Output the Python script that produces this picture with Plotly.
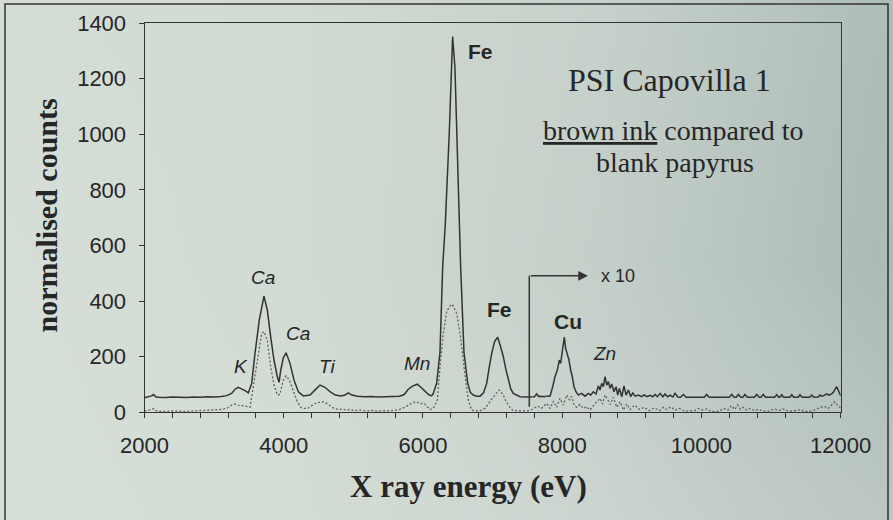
import base64
import struct
import zlib

import plotly.graph_objects as go

# ---------------- data ----------------
# brown ink spectrum (solid line); values above 7527 eV shown x10
energy_ink = [2000, 2040, 2080, 2110, 2130, 2160, 2200, 2300, 2400, 2500, 2600, 2700, 2800, 2900,
              3000, 3100, 3180, 3252, 3300, 3347, 3400, 3444, 3492, 3540, 3587, 3649, 3716, 3764,
              3812, 3860, 3908, 3932, 3956, 3994, 4033, 4090, 4147, 4210, 4281, 4377, 4473, 4521,
              4593, 4665, 4740, 4820, 4880, 4927, 4980, 5060, 5160, 5260, 5360, 5460, 5560, 5660,
              5730, 5789, 5850, 5918, 5970, 6029, 6080, 6125, 6148, 6197, 6244, 6283, 6320, 6377,
              6406, 6426, 6459, 6484, 6521, 6541, 6589, 6642, 6680, 6722, 6770, 6819, 6870, 6915,
              6950, 6987, 7030, 7073, 7110, 7154, 7190, 7226, 7260, 7297, 7350, 7394, 7460, 7527,
              7560, 7600, 7633, 7660, 7681, 7740, 7790, 7825, 7863, 7896, 7930, 7958, 7977, 8001,
              8030, 8049, 8073, 8097, 8121, 8145, 8169, 8198, 8231, 8279, 8327, 8375, 8409, 8447,
              8485, 8519, 8543, 8567, 8591, 8615, 8639, 8663, 8687, 8711, 8744, 8773, 8797, 8821,
              8855, 8888, 8917, 8951, 8984, 9013, 9047, 9095, 9142, 9176, 9215, 9262, 9301, 9334,
              9368, 9406, 9445, 9478, 9512, 9550, 9590, 9620, 9660, 9700, 9740, 9780, 9900, 10040,
              10075, 10110, 10400, 10434, 10470, 10500, 10530, 10565, 10595, 10625, 10660, 10760,
              10794, 10830, 10855, 10888, 10920, 11050, 11081, 11110, 11125, 11152, 11180, 11270,
              11296, 11325, 11390, 11415, 11445, 11555, 11583, 11615, 11680, 11702, 11730, 11760,
              11798, 11830, 11870, 11894, 11942, 11976, 12000]
counts_ink = [52, 54, 56, 60, 64, 56, 54, 53, 55, 54, 53, 55, 54, 56,
              55, 57, 60, 68, 83, 90, 84, 78, 70, 104, 212, 332, 418, 368,
              272, 188, 128, 108, 150, 196, 214, 176, 116, 74, 59, 62, 86, 98,
              90, 74, 62, 59, 62, 70, 62, 58, 56, 57, 55, 56, 55, 58,
              64, 83, 94, 101, 90, 74, 64, 59, 68, 105, 215, 523, 675, 1001,
              1240, 1351, 1240, 1001, 675, 523, 215, 105, 72, 62, 58, 58, 70, 104,
              160, 212, 255, 270, 240, 200, 155, 116, 85, 68, 60, 56, 55, 56,
              57, 56, 66, 57, 58, 56, 59, 58, 92, 128, 152, 188, 176, 224,
              270, 230, 206, 188, 152, 128, 92, 74, 62, 68, 58, 68, 62, 74,
              66, 95, 80, 104, 92, 128, 98, 110, 86, 102, 74, 92, 62, 86,
              56, 95, 62, 80, 56, 70, 58, 62, 56, 63, 56, 61, 56, 64,
              56, 68, 56, 66, 56, 62, 55, 68, 55, 54, 64, 54, 54, 54,
              64, 54, 54, 64, 54, 54, 64, 54, 54, 64, 54, 54,
              64, 54, 54, 64, 54, 54, 63, 54, 54, 63, 54, 54,
              63, 54, 54, 63, 54, 54, 62, 54, 55, 62, 58, 60,
              66, 62, 66, 72, 92, 70, 60]

# blank papyrus spectrum (dotted line); values above 7527 eV shown x10
energy_blank = [2000, 2040, 2080, 2110, 2130, 2160, 2200, 2300, 2400, 2500, 2600, 2700, 2800, 2900,
                3000, 3100, 3181, 3252, 3300, 3340, 3372, 3420, 3468, 3515, 3563, 3620, 3683, 3716,
                3764, 3812, 3860, 3908, 3944, 3994, 4033, 4080, 4138, 4195, 4243, 4290, 4340, 4380,
                4425, 4480, 4521, 4570, 4617, 4665, 4720, 4780, 4840, 4900, 4960, 5020, 5100, 5180,
                5260, 5340, 5420, 5500, 5580, 5660, 5740, 5800, 5850, 5910, 5960, 6010, 6060, 6100,
                6148, 6206, 6244, 6292, 6340, 6380, 6421, 6484, 6532, 6579, 6618, 6651, 6699, 6760,
                6830, 6890, 6939, 6990, 7035, 7070, 7097, 7125, 7154, 7190, 7226, 7260, 7297, 7360,
                7430, 7500, 7560, 7610, 7650, 7700, 7740, 7777, 7825, 7873, 7920, 7968, 8016, 8064,
                8102, 8135, 8170, 8208, 8255, 8303, 8350, 8400, 8447, 8495, 8543, 8580, 8615, 8650,
                8687, 8735, 8783, 8831, 8880, 8927, 8975, 9040, 9110, 9180, 9250, 9320, 9400, 9450,
                9500, 9560, 9620, 9680, 9760, 9820, 9900, 9960, 10020, 10080, 10130, 10200, 10260,
                10320, 10380, 10430, 10480, 10520, 10560, 10600, 10650, 10700, 10760, 10820, 10900,
                10960, 11050, 11110, 11180, 11250, 11330, 11420, 11470, 11540, 11620, 11700, 11760,
                11820, 11880, 11916, 11950, 11990, 12000]
counts_blank = [4, 6, 8, 12, 13, 6, 4, 3, 5, 4, 3, 5, 6, 8,
                9, 10, 14, 26, 30, 26, 23, 24, 20, 18, 92, 188, 284, 290,
                260, 164, 98, 62, 64, 116, 131, 116, 80, 38, 18, 14, 14, 20,
                26, 36, 35, 38, 32, 22, 14, 10, 12, 8, 10, 6, 8, 5,
                7, 4, 6, 5, 8, 10, 18, 28, 35, 38, 30, 33, 18, 10,
                14, 44, 164, 284, 362, 380, 389, 356, 284, 176, 104, 44, 8, 5,
                6, 14, 32, 48, 62, 75, 80, 72, 62, 40, 26, 14, 6, 5,
                6, 5, 10, 18, 22, 14, 24, 32, 14, 40, 18, 50, 26, 62,
                45, 57, 26, 18, 28, 14, 20, 8, 24, 38, 50, 30, 62, 47,
                28, 54, 18, 38, 8, 30, 10, 26, 10, 18, 6, 16, 6, 18,
                10, 20, 8, 14, 4, 5, 6, 14, 8, 12, 4, 3, 5,
                14, 8, 24, 10, 26, 10, 18, 8, 14, 6, 10, 4,
                4, 12, 6, 12, 4, 5, 10, 4, 3, 8, 16, 22,
                14, 30, 38, 26, 18, 12]

x_ticks = [2000, 4000, 6000, 8000, 10000, 12000]
y_ticks = [0, 200, 400, 600, 800, 1000, 1200, 1400]

# peak labels: (text, energy, counts, style)
peak_labels = [
    ("K", 3379, 166, "i"), ("Ca", 3702, 486, "i"), ("Ca", 4198, 285, "i"),
    ("Ti", 4621, 166, "i"), ("Mn", 5907, 174, "i"), ("Fe", 6833, 1296, "b"),
    ("Fe", 7106, 368, "b"), ("Cu", 8076, 328, "b"), ("Zn", 8614, 210, "i"),
]
scale_switch_energy = 7527

# ---------------- layout geometry ----------------
W, H = 893, 520
PX_L, PX_R, PX_T, PX_B = 144.5, 840.7, 23.0, 412.3


def px(x):
    return x / W


def py(y):
    return 1 - y / H


# ---------------- background gradient image ----------------
ctrl_x = [0, 300, 600, 893]
ctrl_y = [0, 260, 520]
ctrl_c = [
    [(211, 221, 213), (209, 219, 211), (199, 209, 203), (174, 189, 184)],
    [(213, 223, 215), (209, 219, 211), (197, 207, 201), (170, 186, 181)],
    [(214, 223, 216), (211, 220, 213), (203, 212, 206), (188, 199, 194)],
]


def interp1(xs, v):
    for i in range(len(xs) - 1):
        if xs[i] <= v <= xs[i + 1]:
            return i, (v - xs[i]) / (xs[i + 1] - xs[i])
    return len(xs) - 2, 1.0


def bg_color(x, y):
    i, tx = interp1(ctrl_x, x)
    j, ty = interp1(ctrl_y, y)
    out = []
    for k in range(3):
        a = ctrl_c[j][i][k] * (1 - tx) + ctrl_c[j][i + 1][k] * tx
        b = ctrl_c[j + 1][i][k] * (1 - tx) + ctrl_c[j + 1][i + 1][k] * tx
        out.append(int(round(a * (1 - ty) + b * ty)))
    return out


def make_png(w, h):
    raw = bytearray()
    for r in range(h):
        raw.append(0)
        for c in range(w):
            raw.extend(bg_color((c + 0.5) * W / w, (r + 0.5) * H / h))

    def chunk(t, d):
        return struct.pack(">I", len(d)) + t + d + struct.pack(">I", zlib.crc32(t + d) & 0xFFFFFFFF)

    return (b"\x89PNG\r\n\x1a\n" + chunk(b"IHDR", struct.pack(">IIBBBBB", w, h, 8, 2, 0, 0, 0))
            + chunk(b"IDAT", zlib.compress(bytes(raw), 9)) + chunk(b"IEND", b""))


bg_uri = "data:image/png;base64," + base64.b64encode(make_png(179, 104)).decode()

# ---------------- figure ----------------
fig = go.Figure()
fig.add_trace(go.Scatter(x=energy_blank, y=counts_blank, mode="lines", name="blank papyrus",
                         line=dict(color="#5f5f5f", width=1.3, dash="2px,2px"), showlegend=False))
fig.add_trace(go.Scatter(x=energy_ink, y=counts_ink, mode="lines", name="brown ink",
                         line=dict(color="#333333", width=1.5), showlegend=False))

tick_font = dict(family="Liberation Sans, Arial, sans-serif", size=22, color="#262626")
fig.update_xaxes(domain=[px(PX_L), px(PX_R)], range=[2000, 12000], tickvals=x_ticks,
                 ticktext=[str(v) for v in x_ticks], showline=True, linecolor="#333333",
                 linewidth=1, mirror=True, ticks="outside", ticklen=5, tickcolor="#333333",
                 minor=dict(dtick=400, tick0=2000, ticks="outside", ticklen=5, tickcolor="#333333"),
                 showgrid=False, zeroline=False, tickfont=tick_font, ticklabelstandoff=8,
                 automargin=False)
fig.update_yaxes(domain=[py(PX_B), py(PX_T)], range=[0, 1400], tickvals=y_ticks,
                 showline=True, linecolor="#333333", linewidth=1, mirror=True, ticks="outside",
                 ticklen=5, tickcolor="#333333", showgrid=False, zeroline=False,
                 tickfont=tick_font, ticklabelstandoff=8, automargin=False)

annotations = []
for text, e, c, style in peak_labels:
    if style == "b":
        annotations.append(dict(x=e, y=c, xref="x", yref="y", text="<b>%s</b>" % text,
                                showarrow=False, font=dict(family="Liberation Sans, Arial", size=21, color="#262626")))
    else:
        annotations.append(dict(x=e, y=c, xref="x", yref="y", text="<i>%s</i>" % text,
                                showarrow=False, font=dict(family="Liberation Sans, Arial", size=19, color="#262626")))

annotations += [
    dict(x=8801, y=490, xref="x", yref="y", text="x 10", showarrow=False,
         font=dict(family="Liberation Sans, Arial", size=18, color="#262626")),
    dict(x=8370, y=491, xref="x", yref="y", ax=scale_switch_energy, ay=491, axref="x", ayref="y",
         text="", showarrow=True, arrowhead=2, arrowsize=1.3, arrowwidth=1.5, arrowcolor="#333333"),
    dict(x=9546, y=1195, xref="x", yref="y", text="PSI Capovilla 1", showarrow=False,
         font=dict(family="Liberation Serif, Times New Roman, serif", size=32, color="#262626")),
    dict(x=9603, y=1015, xref="x", yref="y", text="<u>brown ink</u> compared to", showarrow=False,
         font=dict(family="Liberation Serif, Times New Roman, serif", size=28, color="#262626")),
    dict(x=9617, y=897, xref="x", yref="y", text="blank papyrus", showarrow=False,
         font=dict(family="Liberation Serif, Times New Roman, serif", size=28, color="#262626")),
    dict(x=px(468), y=py(486), xref="paper", yref="paper", xanchor="center", yanchor="middle",
         text="<b>X ray energy (eV)</b>", showarrow=False,
         font=dict(family="Liberation Serif, Times New Roman, serif", size=31, color="#262626")),
    dict(x=px(45.5), y=py(216), xref="paper", yref="paper", xanchor="center", yanchor="middle",
         text="<b>normalised counts</b>", textangle=-90, showarrow=False,
         font=dict(family="Liberation Serif, Times New Roman, serif", size=30, color="#262626")),
]

shapes = [
    dict(type="line", xref="x", yref="y", x0=scale_switch_energy, x1=scale_switch_energy, y0=20, y1=491,
         line=dict(color="#333333", width=1.5)),
    dict(type="rect", xref="paper", yref="paper", x0=px(5), x1=px(888), y0=-0.05, y1=py(4),
         line=dict(color="#333333", width=1.5), fillcolor="rgba(0,0,0,0)", layer="above"),
]

fig.update_layout(
    width=W, height=H, autosize=False,
    margin=dict(l=0, r=0, t=0, b=0, pad=0),
    paper_bgcolor="#cfd8d1", plot_bgcolor="rgba(0,0,0,0)",
    images=[dict(source=bg_uri, xref="paper", yref="paper", x=0, y=1, sizex=1, sizey=1,
                 xanchor="left", yanchor="top", sizing="stretch", layer="below")],
    annotations=annotations, shapes=shapes, showlegend=False,
)

fig.write_html("out.html", config={"displayModeBar": False},
               post_script="document.body.style.margin='0';document.body.style.overflow='hidden';")
